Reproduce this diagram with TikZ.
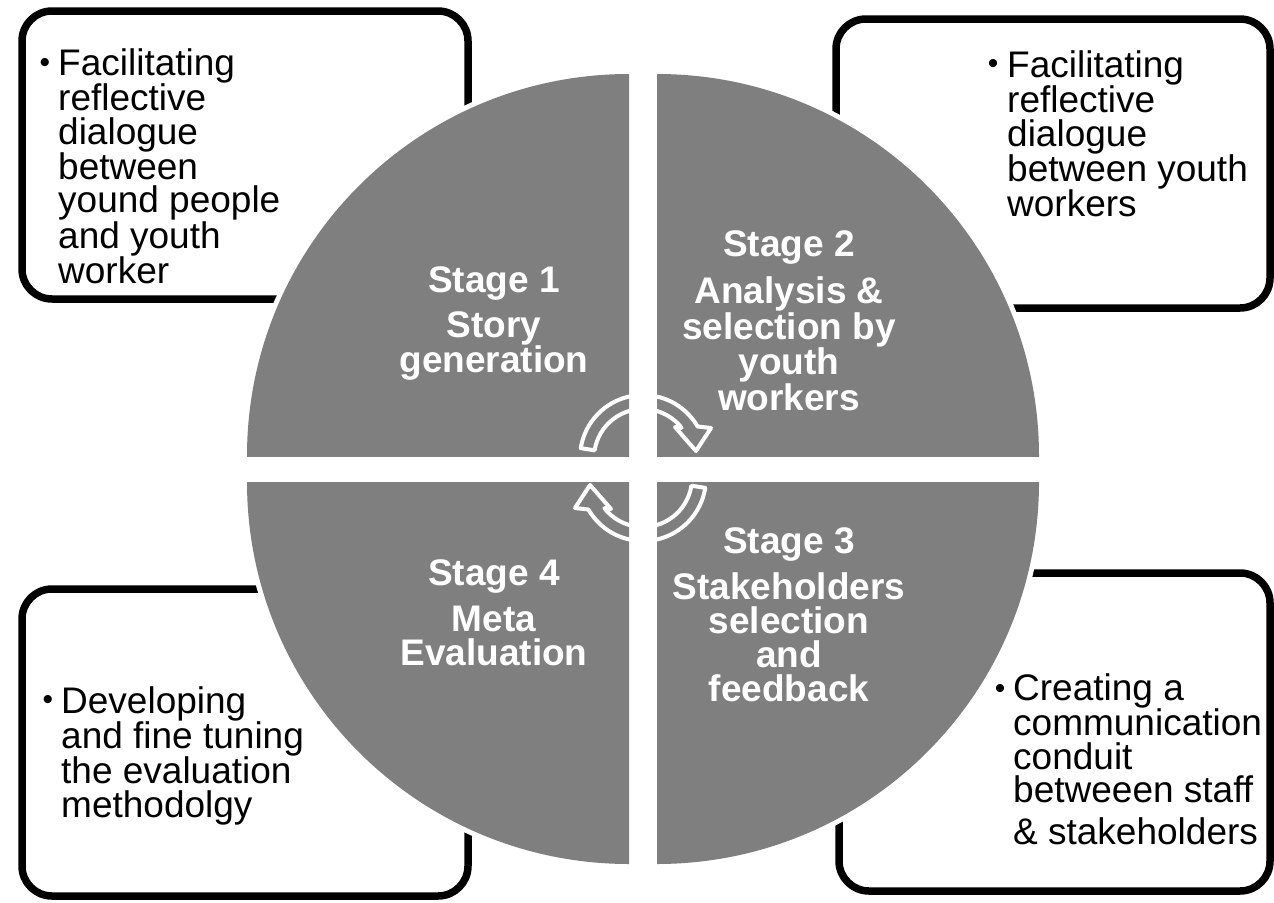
\documentclass[tikz,border=0pt]{standalone}
\usepackage{fontspec}
\setmainfont{Liberation Sans}
\definecolor{sectorgrey}{HTML}{7F7F7F}
\begin{document}
\begin{tikzpicture}[x=1pt,y=1pt,
  frame/.style={draw=black, line width=7.5pt, rounded corners=30pt, fill=white, inner sep=0pt, outer sep=0pt},
  boxtext/.style={anchor=north west, inner sep=0pt, align=left, text=black, font=\fontsize{37}{33.5}\selectfont},
  bulletmark/.style={anchor=base, inner sep=0pt, text=black, font=\fontsize{30}{30}\selectfont},
  stagetext/.style={anchor=north, inner sep=0pt, align=center, text=white, font=\bfseries\fontsize{37}{34}\selectfont},
  cyclearrow/.style={draw=white, line width=4pt, line join=round}
]
\fill[white] (0,0) rectangle (1274,-902);
\useasboundingbox (0,0) rectangle (1274,-902);

% boxes
\node[frame, minimum width=446pt, minimum height=288pt] (boxTL) at (245,-155) {};
\node[frame, minimum width=434pt, minimum height=289pt] (boxTR) at (1053,-163.5) {};
\node[frame, minimum width=446pt, minimum height=307pt] (boxBL) at (245,-742.5) {};
\node[frame, minimum width=431pt, minimum height=318pt] (boxBR) at (1054.5,-732) {};

% quadrants
\begin{scope}
\clip (629,-456) rectangle (200,-30);
\fill[white] (629,-456) circle[radius=387pt];
\fill[sectorgrey] (629,-456) circle[radius=382pt];
\end{scope}
\begin{scope}
\clip (657,-456) rectangle (1100,-30);
\fill[white] (657,-456) circle[radius=387pt];
\fill[sectorgrey] (657,-456) circle[radius=382pt];
\end{scope}
\begin{scope}
\clip (657,-482) rectangle (1100,-902);
\fill[white] (657,-482) circle[radius=387pt];
\fill[sectorgrey] (657,-482) circle[radius=382pt];
\end{scope}
\begin{scope}
\clip (629,-482) rectangle (200,-902);
\fill[white] (629,-482) circle[radius=387pt];
\fill[sectorgrey] (629,-482) circle[radius=382pt];
\end{scope}

% stage texts
\node[stagetext] (s1) at (494,-266) {Stage 1\\[11pt]Story\\generation};
\node[stagetext] (s2) at (789,-230) {Stage 2\\[12pt]Analysis \&\\selection by\\youth\\workers};
\node[stagetext] (s3) at (789,-527) {Stage 3\\[11pt]Stakeholders\\selection\\and\\feedback};
\node[stagetext] (s4) at (494,-559) {Stage 4\\[12pt]Meta\\Evaluation};

% cycle arrows
\coordinate (ctop) at (643,-458);
\coordinate (cbot) at (643,-478);
\draw[cyclearrow] ([shift={(171:63)}]ctop) arc[start angle=171, end angle=30, radius=63pt]
  -- (711,-428) -- (696,-451) -- (675,-427) -- ([shift={(38:49)}]ctop)
  arc[start angle=38, end angle=171, radius=49pt] -- cycle;
\draw[cyclearrow] ([shift={(351:63)}]cbot) arc[start angle=351, end angle=210, radius=63pt]
  -- (575,-508) -- (590,-485) -- (611,-509) -- ([shift={(218:49)}]cbot)
  arc[start angle=218, end angle=351, radius=49pt] -- cycle;

% box texts
\node[boxtext] (tTL) at (58,-48) {Facilitating\\reflective\\dialogue\\between\\yound people\\and youth\\worker};
\node[bulletmark] (bTL) at (45,-72) {•};
\node[boxtext] (tTR) at (1007,-50) {Facilitating\\reflective\\dialogue\\between youth\\workers};
\node[bulletmark] (bTR) at (993,-73) {•};
\node[boxtext] (tBL) at (61,-686) {Developing\\and fine tuning\\the evaluation\\methodolgy};
\node[bulletmark] (bBL) at (48,-709) {•};
\node[boxtext] (tBR) at (1013,-673) {Creating a\\communication\\conduit\\betweeen staff\\[8pt]\& stakeholders};
\node[bulletmark] (bBR) at (1000,-698) {•};
\end{tikzpicture}
\end{document}
